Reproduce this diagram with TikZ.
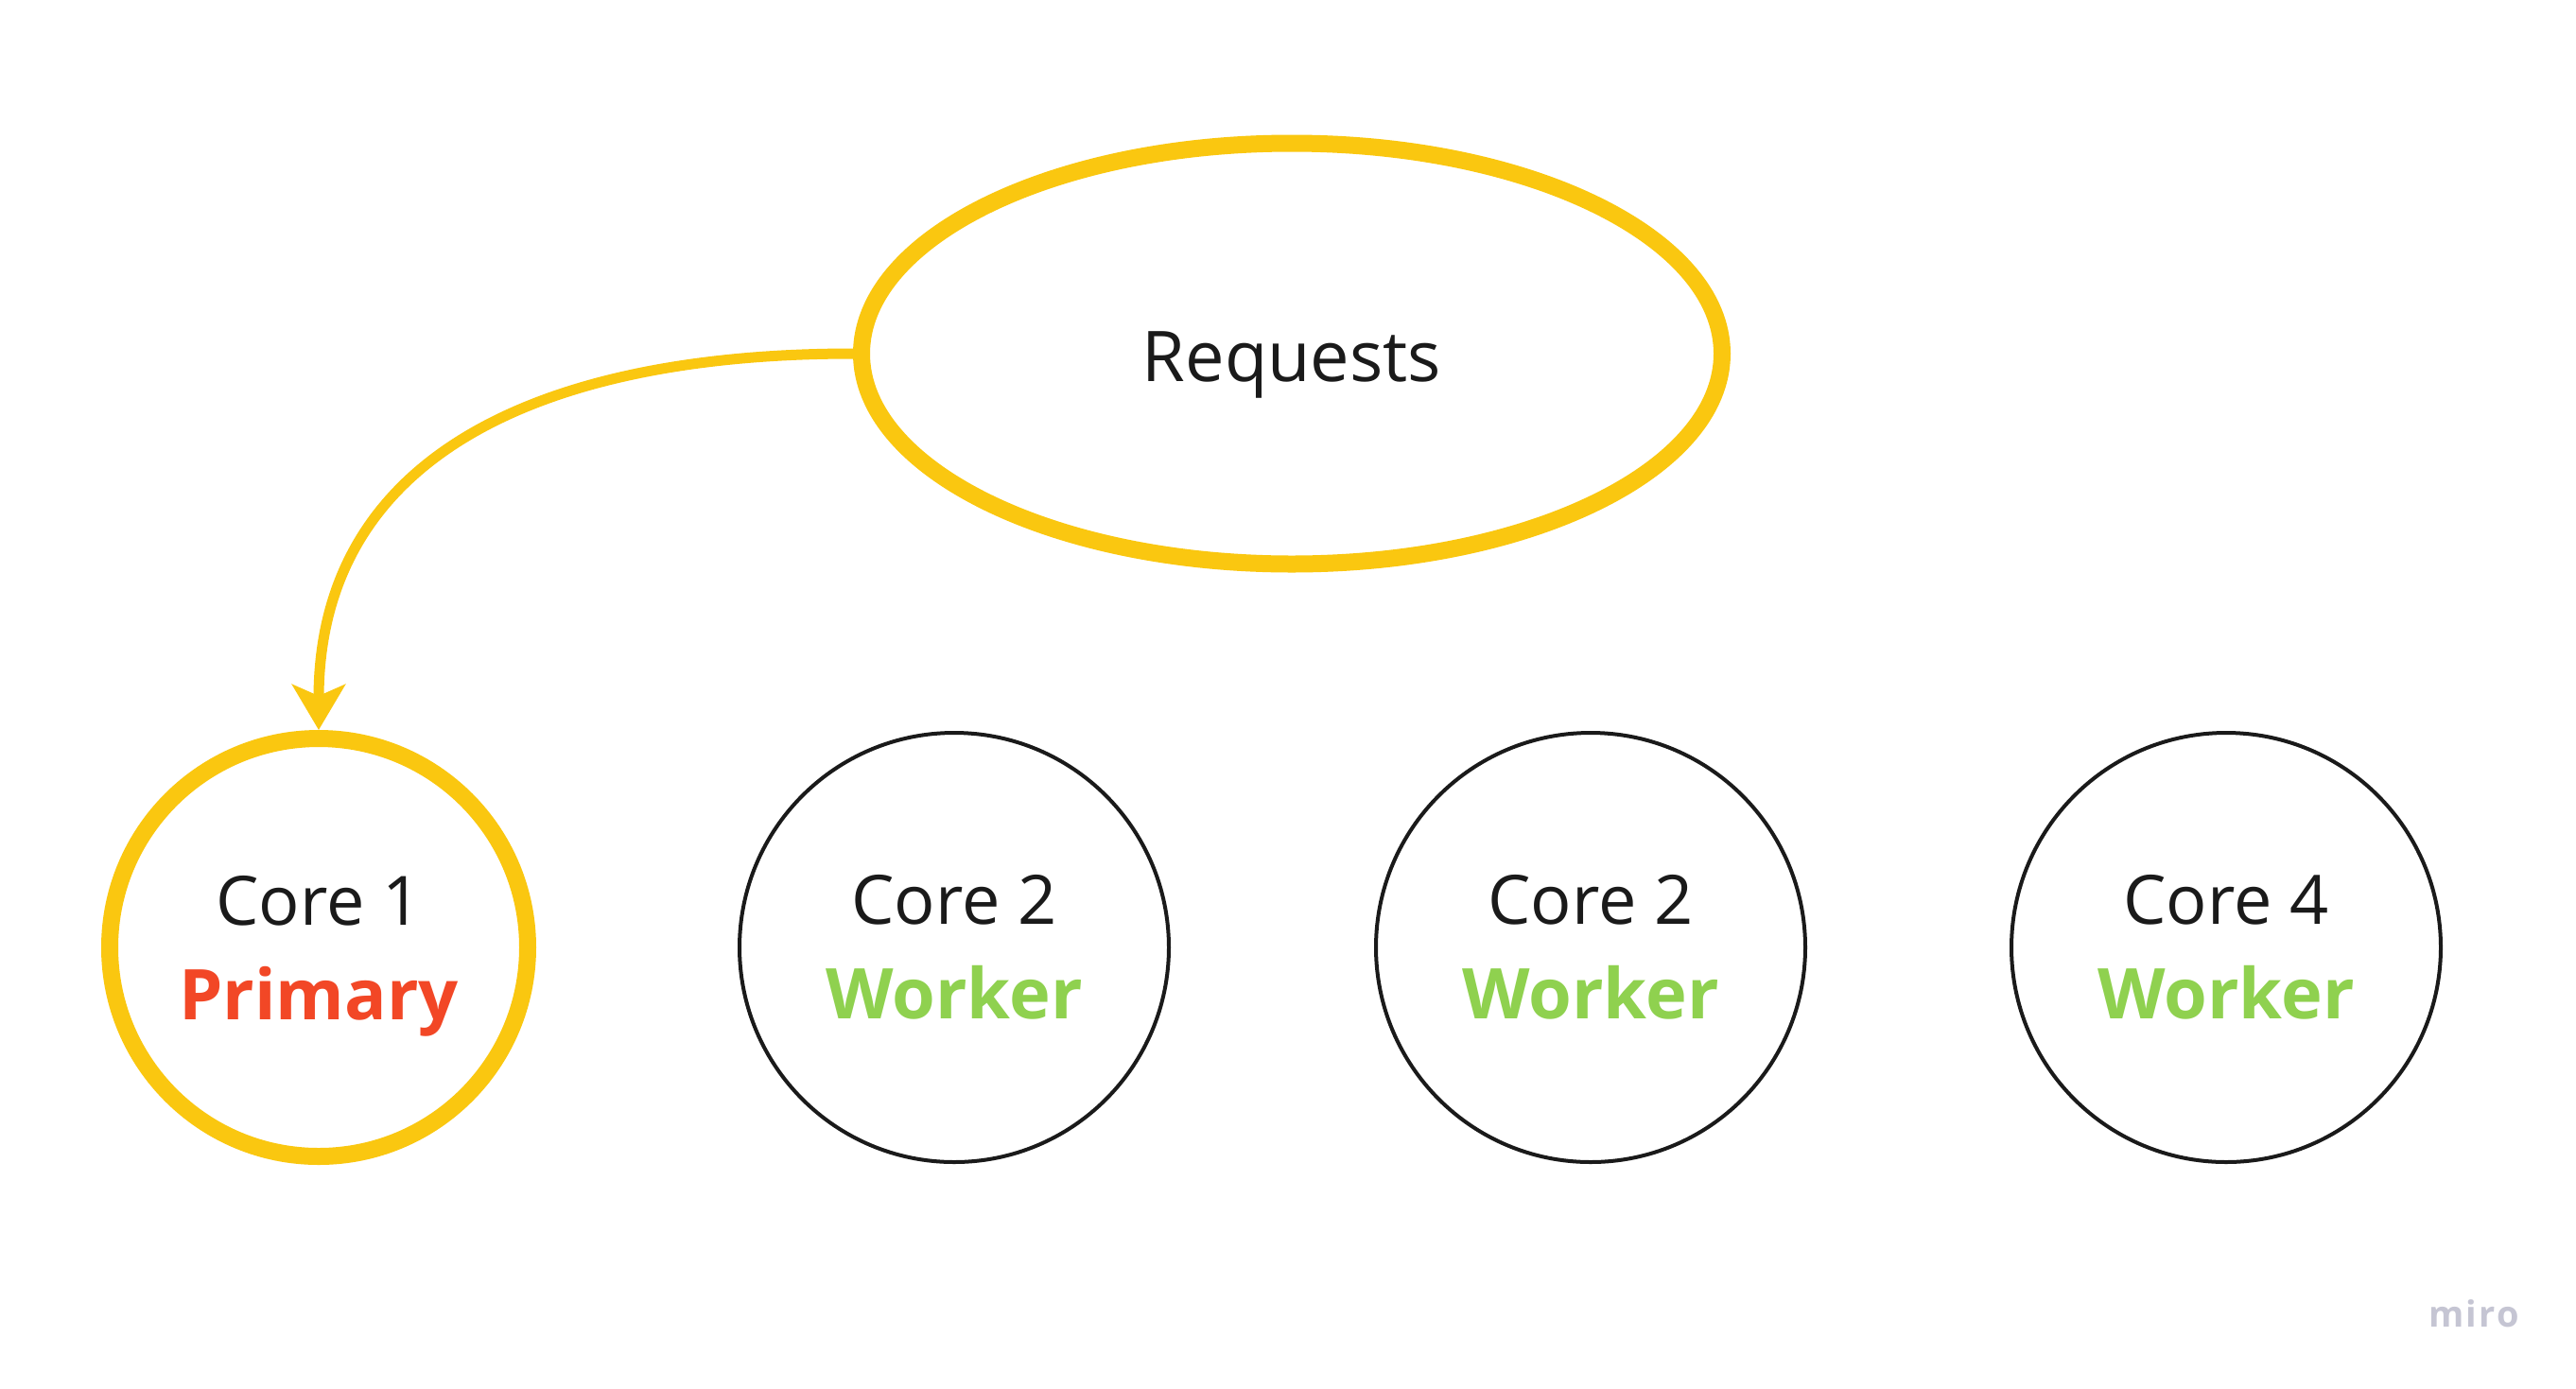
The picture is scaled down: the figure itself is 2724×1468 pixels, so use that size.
\documentclass[tikz,border=0pt]{standalone}
\usepackage{fontspec}
\setmainfont{Open Sans}
\usetikzlibrary{shapes.geometric,arrows.meta}
\definecolor{myyellow}{HTML}{FAC710}
\definecolor{myred}{HTML}{F24726}
\definecolor{mygreen}{HTML}{8FD14F}
\definecolor{myblack}{HTML}{1A1A1A}
\definecolor{mirogrey}{HTML}{C5C5D3}
\tikzset{
  corebox/.style={circle, draw=myblack, line width=4pt, minimum size=454pt, inner sep=0pt,
    align=center, text=myblack, font=\fontsize{72}{102}\selectfont},
  primbox/.style={corebox, draw=myyellow, line width=18pt, minimum size=442pt},
  reqbox/.style={ellipse, draw=myyellow, line width=18pt, minimum width=910pt, minimum height=445pt, inner sep=0pt},
  reqarrow/.style={draw=myyellow, line width=11pt, -{Stealth[length=48pt, width=56pt, inset=12pt]}}
}
\newcommand{\worklbl}{{\fontsize{74}{102}\selectfont\bfseries\color{mygreen}Worker}}
\begin{document}
\begin{tikzpicture}[x=1pt,y=-1pt]
\useasboundingbox[fill=white] (0,0) rectangle (2724,1468);
\node[reqbox] (req) at (1366,374) {};
\node[anchor=base, text=myblack, font=\fontsize{74}{90}\selectfont] (reqtext) at (1366,403) {Requests};
\node[primbox] (c1) at (337,1002) {Core 1\\[-2pt]\smash{\fontsize{74}{102}\selectfont\bfseries\color{myred}Primary}};
\node[corebox] (c2) at (1009,1002) {Core 2\\[-2pt]\worklbl};
\node[corebox] (c3) at (1682,1002) {Core 2\\[-2pt]\worklbl};
\node[corebox] (c4) at (2354,1002) {Core 4\\[-2pt]\worklbl};
\draw[reqarrow] (req.west) .. controls +(-330,0) and +(0,-290) .. (c1.north);
\node[anchor=base, text=mirogrey, font=\fontsize{38}{40}\selectfont\addfontfeature{LetterSpace=6}] (miro) at (2617,1403) {\textbf{miro}};
\end{tikzpicture}
\end{document}
